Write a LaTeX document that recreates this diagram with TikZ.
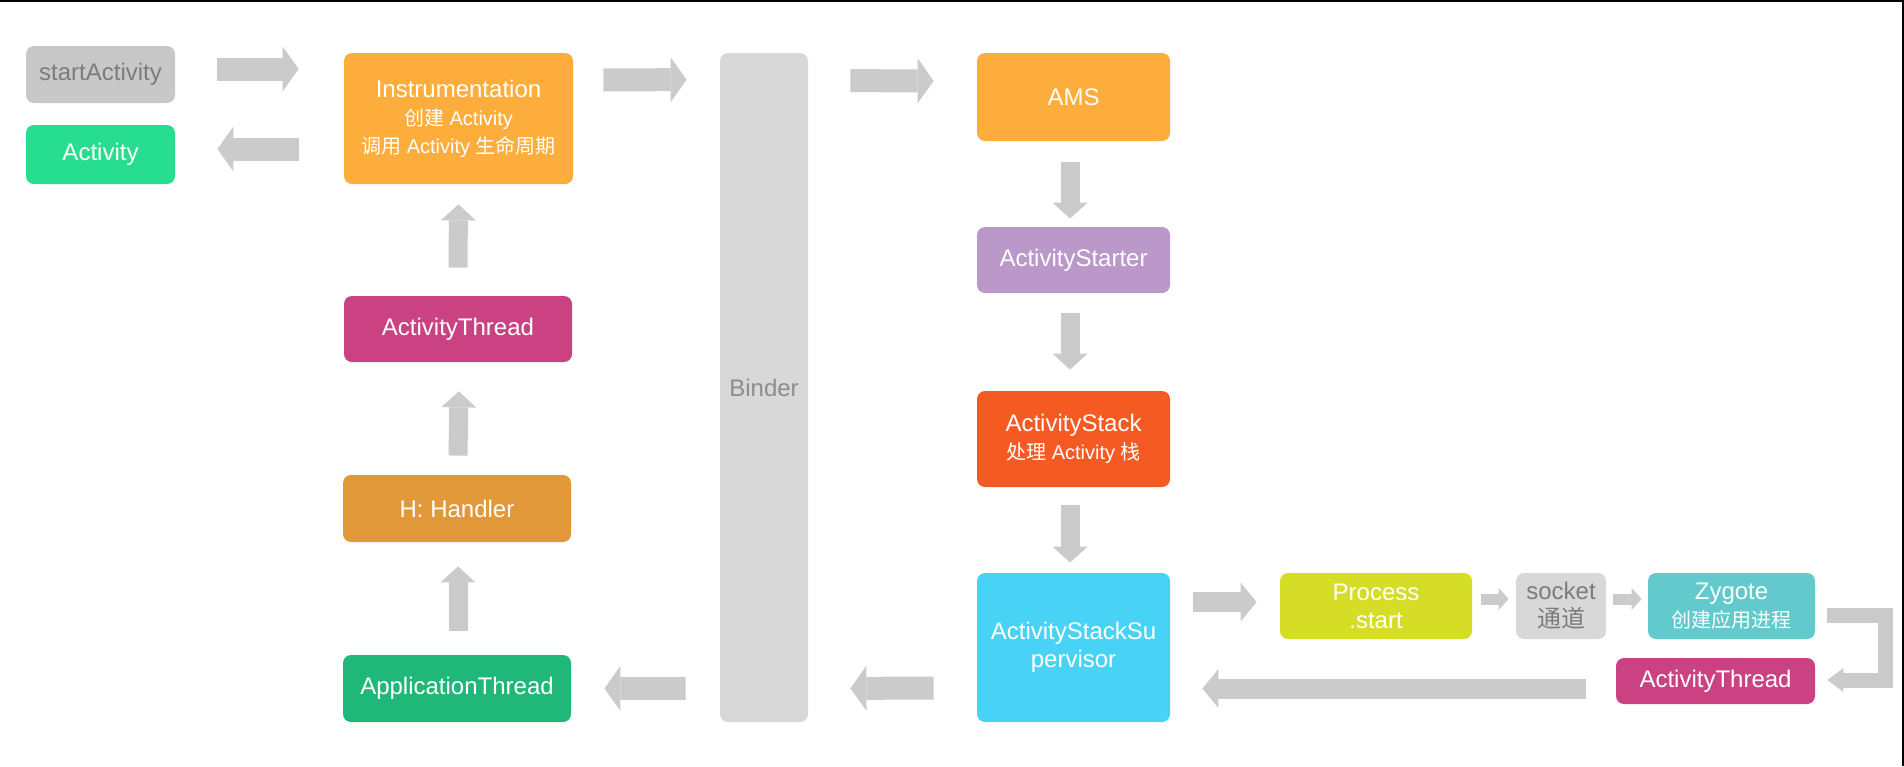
\documentclass[tikz,border=0pt]{standalone}
\usepackage{fontspec}
\setmainfont{Liberation Sans}
\newfontfamily\cjk{Noto Sans CJK SC}
\usetikzlibrary{arrows.meta}

\definecolor{arrowgray}{HTML}{CBCBCB}
\definecolor{lightgray}{HTML}{D8D8D8}
\definecolor{callgray}{HTML}{C8C8C8}
\definecolor{graytext}{HTML}{7C7C7C}
\definecolor{actgreen}{HTML}{27DD8F}
\definecolor{orange}{HTML}{FDAD3B}
\definecolor{threadpink}{HTML}{CB4282}
\definecolor{handlerorange}{HTML}{E09838}
\definecolor{appgreen}{HTML}{1FB879}
\definecolor{starterpurple}{HTML}{BB98CA}
\definecolor{stackred}{HTML}{F55A22}
\definecolor{supercyan}{HTML}{48D3F6}
\definecolor{processyellow}{HTML}{D6DD27}
\definecolor{zygoteteal}{HTML}{62CACD}

\newcommand\subline{\fontsize{10}{14}\selectfont}

\begin{document}
\begin{tikzpicture}[
  x=0.5pt, y=-0.5pt,
  font=\fontsize{12}{14}\selectfont,
  box/.style={
    fill=#1,
    rounded corners=4pt,
    text=white,
    align=center,
    inner sep=0pt
  },
  graybox/.style={box=#1, text=graytext},
  fat/.style args={#1/#2/#3}{
    draw=arrowgray,
    line width=#1,
    line join=miter,
    -{Triangle[length=#3, width=#2, line width=0pt]}
  },
  bigarrow/.style={fat=11.5pt/22.5pt/8pt},
  midarrow/.style={fat=10pt/19.5pt/8pt},
  colarrow/.style={fat=9.5pt/17.5pt/8pt},
  smallarrow/.style={fat=5.5pt/11pt/5pt},
  bentarrow/.style={fat=7.5pt/12pt/8pt}
]

\fill[white] (0,0) rectangle (1904,766);
\useasboundingbox (0,0) rectangle (1904,766);
\fill[black] (0,0) rectangle (1904,1.5);
\fill[black] (1902,0) rectangle (1904,766);

% app process side
\node[graybox=callgray, minimum width=74.5pt, minimum height=28.5pt] (start) at (100.5,74.5) {startActivity};
\node[box=actgreen, minimum width=74.5pt, minimum height=29.5pt] (act) at (100.5,154.5) {Activity};

\node[box=orange, minimum width=114.5pt, minimum height=65.5pt] (instr) at (458.5,118.5) {
  Instrumentation\\
  {\subline{\cjk 创建} Activity}\\
  {\subline{\cjk 调用} Activity {\cjk 生命周期}}
};
\node[box=threadpink, minimum width=114pt, minimum height=33pt] (thread) at (458,329) {ActivityThread};
\node[box=handlerorange, minimum width=114pt, minimum height=33.5pt] (handler) at (457,508.5) {H: Handler};
\node[box=appgreen, minimum width=114pt, minimum height=33.5pt] (appthread) at (457,688.5) {ApplicationThread};

\node[graybox=lightgray, text=gray!90, minimum width=44pt, minimum height=334.5pt] (binder) at (764,387.5) {Binder};

% system server side
\node[box=orange, minimum width=96.5pt, minimum height=44pt] (ams) at (1073.5,97) {AMS};
\node[box=starterpurple, minimum width=96.5pt, minimum height=33pt] (starter) at (1073.5,260) {ActivityStarter};
\node[box=stackred, minimum width=96.5pt, minimum height=48pt] (stack) at (1073.5,439) {
  ActivityStack\\
  {\subline{\cjk 处理} Activity {\cjk 栈}}
};
\node[box=supercyan, minimum width=96.5pt, minimum height=74.5pt] (super) at (1073.5,647.5) {ActivityStackSu\\pervisor};

% new process
\node[box=processyellow, minimum width=96pt, minimum height=33pt] (process) at (1376,606) {Process\\.start};
\node[graybox=lightgray, minimum width=45pt, minimum height=33pt] (socket) at (1561,606) {socket\\{\cjk 通道}};
\node[box=zygoteteal, minimum width=83.5pt, minimum height=33pt] (zygote) at (1731.5,606) {
  Zygote\\
  {\subline\cjk 创建应用进程}
};
\node[box=threadpink, minimum width=99.5pt, minimum height=23pt] (newthread) at (1715.5,681) {ActivityThread};

% arrows
\draw[bigarrow] ([shift={(42,-5.5)}]start.east) -- ([shift={(-45,-49.5)}]instr.west);
\draw[bigarrow] ([shift={(-45,30.5)}]instr.west) -- ([shift={(42,-5.5)}]act.east);
\draw[bigarrow] ([shift={(30,-38.5)}]instr.east) -- ([shift={(-33,27)}]binder.north west);
\draw[bigarrow] ([shift={(42,28)}]binder.north east) -- ([shift={(-43,-16)}]ams.west);

\draw[colarrow] ([shift={(-3.5,21)}]ams.south) -- ([shift={(-3.5,-8)}]starter.north);
\draw[colarrow] ([shift={(-3.5,20)}]starter.south) -- ([shift={(-3.5,-21)}]stack.north);
\draw[colarrow] ([shift={(-3.5,18)}]stack.south) -- ([shift={(-3.5,-10)}]super.north);

\draw[midarrow] ([shift={(23,-45.5)}]super.east) -- ([shift={(-23,-4)}]process.west);
\draw[smallarrow] ([shift={(9,-7)}]process.east) -- ([shift={(-7,-7)}]socket.west);
\draw[smallarrow] ([shift={(7,-7)}]socket.east) -- ([shift={(-6,-7)}]zygote.west);
\draw[bentarrow] ([shift={(12,9)}]zygote.east) -- ++(58,0) |- ([shift={(12,-1)}]newthread.east);
\draw[midarrow] ([shift={(-30,7.5)}]newthread.west) -- ([shift={(32,41)}]super.east);

\draw[bigarrow] ([shift={(-43,40.5)}]super.west) -- ([shift={(42,-34)}]binder.south east);
\draw[bigarrow] ([shift={(-34,-34)}]binder.south west) -- ([shift={(33,0)}]appthread.east);

\draw[colarrow] ([shift={(1,-24)}]appthread.north) -- ([shift={(1,24)}]handler.south);
\draw[colarrow] ([shift={(1,-19)}]handler.north) -- ([shift={(1,29)}]thread.south);
\draw[colarrow] ([shift={(0,-28)}]thread.north) -- ([shift={(0,20)}]instr.south);

\end{tikzpicture}
\end{document}
